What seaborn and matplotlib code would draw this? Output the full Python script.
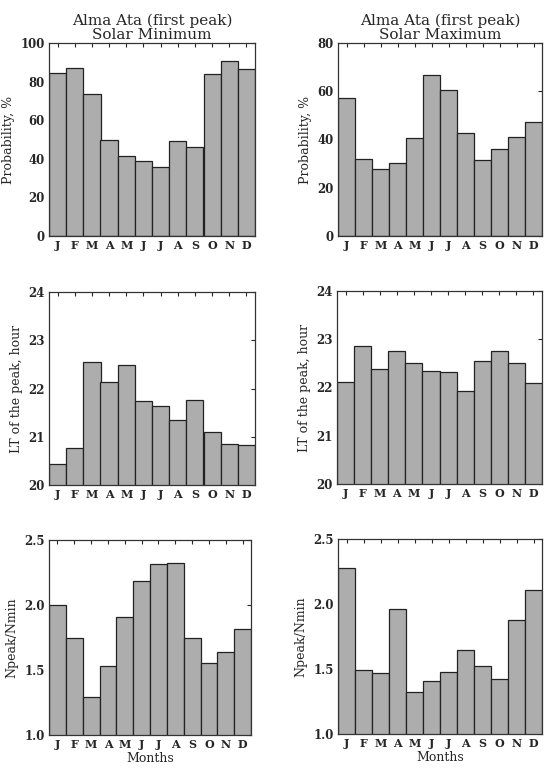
import matplotlib
matplotlib.use("Agg")
import matplotlib.pyplot as plt
import seaborn as sns
import pandas as pd

months = ["J", "F", "M", "A", "M", "J", "J", "A", "S", "O", "N", "D"]

prob_min = [84.5, 87.0, 73.6, 50.0, 41.7, 39.1, 36.0, 49.0, 45.9, 83.8, 90.7, 86.7]
prob_max = [57.0, 31.9, 27.7, 30.2, 40.7, 66.9, 60.7, 42.9, 31.7, 35.9, 41.2, 47.3]
lt_min = [20.44, 20.76, 22.55, 22.14, 22.48, 21.74, 21.63, 21.34, 21.76, 21.10, 20.84, 20.82]
lt_max = [22.11, 22.87, 22.38, 22.75, 22.51, 22.35, 22.33, 21.93, 22.54, 22.76, 22.50, 22.09]
ratio_min = [2.00, 1.746, 1.29, 1.533, 1.905, 2.185, 2.313, 2.326, 1.746, 1.551, 1.636, 1.815]
ratio_max = [2.277, 1.49, 1.47, 1.96, 1.32, 1.41, 1.48, 1.644, 1.523, 1.423, 1.874, 2.105]

sns.set_style("white")
plt.rcParams["font.family"] = ["DejaVu Serif"]

W, H = 553, 770
fig = plt.figure(figsize=(W / 100, H / 100), dpi=100)

def ax_at(x0, x1, y0, y1):
    return fig.add_axes([x0 / W, 1 - y1 / H, (x1 - x0) / W, (y1 - y0) / H])

panels = [
    (ax_at(49, 255, 43, 236), prob_min, (0, 100), [0, 20, 40, 60, 80, 100], "Probability, %", "{:.0f}", "Alma Ata (first peak)\nSolar Minimum", False),
    (ax_at(338, 542, 43, 236), prob_max, (0, 80), [0, 20, 40, 60, 80], "Probability, %", "{:.0f}", "Alma Ata (first peak)\nSolar Maximum", False),
    (ax_at(49, 255, 292, 485), lt_min, (20, 24), [20, 21, 22, 23, 24], "LT of the peak, hour", "{:.0f}", None, False),
    (ax_at(337, 542, 291, 484), lt_max, (20, 24), [20, 21, 22, 23, 24], "LT of the peak, hour", "{:.0f}", None, False),
    (ax_at(49, 251, 540, 735), ratio_min, (1.0, 2.5), [1.0, 1.5, 2.0, 2.5], "Npeak/Nmin", "{:.1f}", None, True),
    (ax_at(338, 542, 539, 734), ratio_max, (1.0, 2.5), [1.0, 1.5, 2.0, 2.5], "Npeak/Nmin", "{:.1f}", None, True),
]

for ax, vals, ylim, yticks, ylabel, fmt, title, show_months in panels:
    df = pd.DataFrame({"idx": list(range(12)), "val": vals})
    sns.barplot(data=df, x="idx", y="val", ax=ax, width=1.0, color="#adadad",
                saturation=1, edgecolor="#222222", linewidth=0.9)
    ax.set_xlim(-0.5, 11.5)
    ax.set_ylim(*ylim)
    ax.set_yticks(yticks)
    ax.set_yticklabels([fmt.format(t) for t in yticks], fontsize=8.5, fontweight="bold")
    ax.set_xticks(range(12))
    ax.set_xticklabels(months, fontsize=8, fontweight="bold")
    ax.set_ylabel(ylabel, fontsize=9)
    ax.set_xlabel("Months" if show_months else "", fontsize=9, labelpad=1)
    ax.tick_params(direction="in", top=True, right=True, length=3, width=0.8, pad=3)
    for s in ax.spines.values():
        s.set_color("#333333")
        s.set_linewidth(0.9)
    if title:
        ax.set_title(title, fontsize=11, linespacing=0.95, pad=3)

fig.savefig("out.png", dpi=100, facecolor="white")
